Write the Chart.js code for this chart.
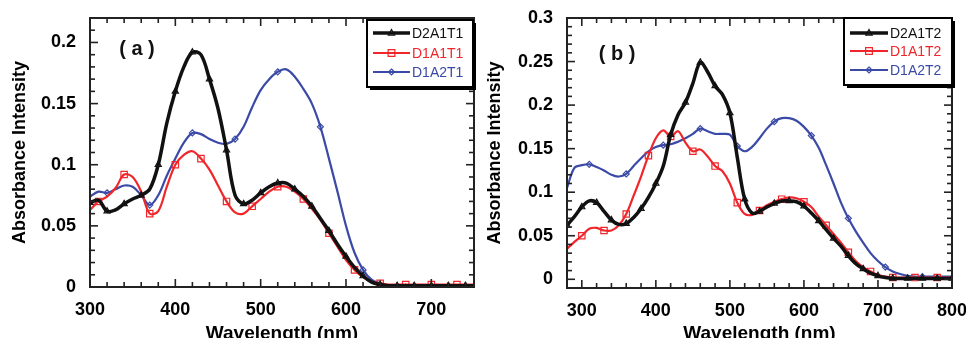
<!DOCTYPE html>
<html>
<head>
<meta charset="utf-8">
<script src="https://cdn.jsdelivr.net/npm/chart.js@4.4.1/dist/chart.umd.min.js"></script>
<style>
  html, body { margin: 0; padding: 0; background: #fff; overflow: hidden; }
  .panel { position: absolute; top: 0; width: 483px; height: 338px; }
  #pa { left: 0; }
  #pb { left: 483px; }
</style>
</head>
<body>
<div class="panel" id="pa"><canvas id="chartA" width="483" height="338"></canvas></div>
<div class="panel" id="pb"><canvas id="chartB" width="483" height="338"></canvas></div>
<script>
// ---- panel (a) ----
const wlA = [300, 310, 320, 330, 340, 350, 360, 370, 380, 390, 400, 410, 420, 430, 440, 450,
  460, 470, 480, 490, 500, 510, 520, 530, 540, 550, 560, 570, 580, 590, 600, 610, 620, 630,
  640, 650, 660, 670, 680, 690, 700, 710, 720, 730, 740, 750];
const d2a1t1 = [0.069, 0.071, 0.062, 0.063, 0.068, 0.072, 0.075, 0.080, 0.100, 0.134, 0.160, 0.180,
  0.192, 0.190, 0.170, 0.146, 0.112, 0.075, 0.068, 0.071, 0.077, 0.082, 0.085, 0.085, 0.080, 0.074,
  0.066, 0.056, 0.046, 0.035, 0.025, 0.016, 0.009, 0.004, 0.002, 0.001, 0.001, 0.001, 0.001, 0.001,
  0.001, 0.001, 0.001, 0.001, 0.001, 0.001];
const d1a1t1 = [0.063, 0.070, 0.074, 0.081, 0.092, 0.090, 0.078, 0.060, 0.062, 0.082, 0.100, 0.108,
  0.111, 0.105, 0.096, 0.083, 0.070, 0.061, 0.060, 0.066, 0.072, 0.078, 0.082, 0.082, 0.078, 0.072,
  0.064, 0.055, 0.044, 0.033, 0.022, 0.014, 0.008, 0.004, 0.003, 0.002, 0.002, 0.002, 0.002, 0.002,
  0.002, 0.002, 0.002, 0.002, 0.002, 0.002];
const d1a2t1 = [0.074, 0.078, 0.077, 0.080, 0.083, 0.082, 0.075, 0.067, 0.075, 0.091, 0.105, 0.118,
  0.126, 0.125, 0.121, 0.118, 0.117, 0.121, 0.131, 0.147, 0.161, 0.170, 0.176, 0.178, 0.172, 0.162,
  0.150, 0.131, 0.105, 0.078, 0.050, 0.028, 0.014, 0.006, 0.003, 0.001, 0, 0, 0, 0,
  0, 0, 0, 0, 0, 0];
const xTicksA = [300, 400, 500, 600, 700];
const yTicksA = [0, 0.05, 0.1, 0.15, 0.2];

// ---- panel (b) ----
const wlB = [280, 290, 300, 310, 320, 330, 340, 350, 360, 370, 380, 390, 400, 410, 420, 430, 440,
  450, 460, 470, 480, 490, 500, 510, 520, 530, 540, 550, 560, 570, 580, 590, 600, 610, 620, 630,
  640, 650, 660, 670, 680, 690, 700, 710, 720, 730, 740, 750, 760, 770, 780, 790, 800];
const d2a1t2 = [0.062, 0.072, 0.083, 0.090, 0.088, 0.078, 0.068, 0.063, 0.064, 0.071, 0.081, 0.094,
  0.110, 0.130, 0.166, 0.189, 0.203, 0.225, 0.249, 0.238, 0.222, 0.212, 0.191, 0.140, 0.092, 0.076,
  0.078, 0.083, 0.087, 0.090, 0.090, 0.089, 0.084, 0.076, 0.067, 0.057, 0.047, 0.038, 0.027, 0.018,
  0.012, 0.007, 0.004, 0.002, 0.001, 0.001, 0.001, 0.001, 0.001, 0.001, 0.001, 0.001, 0.001];
const d1a1t2 = [0.035, 0.043, 0.050, 0.058, 0.059, 0.056, 0.056, 0.062, 0.075, 0.096, 0.118, 0.142,
  0.162, 0.171, 0.164, 0.170, 0.157, 0.147, 0.149, 0.141, 0.130, 0.124, 0.110, 0.088, 0.075, 0.074,
  0.079, 0.085, 0.089, 0.092, 0.094, 0.093, 0.089, 0.083, 0.072, 0.062, 0.052, 0.042, 0.031, 0.021,
  0.014, 0.009, 0.005, 0.003, 0.002, 0.002, 0.002, 0.002, 0.002, 0.002, 0.002, 0.002, 0.002];
const d1a2t2 = [0.105, 0.128, 0.131, 0.132, 0.129, 0.125, 0.120, 0.118, 0.121, 0.130, 0.139, 0.147,
  0.152, 0.154, 0.155, 0.158, 0.162, 0.167, 0.173, 0.170, 0.167, 0.167, 0.166, 0.153, 0.147, 0.152,
  0.162, 0.173, 0.181, 0.185, 0.185, 0.182, 0.175, 0.165, 0.151, 0.131, 0.110, 0.088, 0.070, 0.055,
  0.042, 0.030, 0.021, 0.014, 0.009, 0.006, 0.004, 0.003, 0.003, 0.003, 0.003, 0.003, 0.003];
const xTicksB = [300, 400, 500, 600, 700, 800];
const yTicksB = [0, 0.05, 0.1, 0.15, 0.2, 0.25, 0.3];

const FONT = '"Liberation Sans", Arial, sans-serif';
const BLACK = "#111111";
const RED = "#f0262b";
const BLUE = "#3a4aa6";

// markers only on every n-th point, like the sparse symbols of the original plot
function marks(every, off, r) {
  return (c) => (c.dataIndex % every === off ? r : 0);
}

function series(label, wl, vals, color, width, style, every, off, r) {
  return {
    label,
    data: wl.map((w, i) => ({ x: w, y: vals[i] })),
    borderColor: color,
    borderWidth: width,
    tension: 0.35,
    pointStyle: style,
    pointRadius: marks(every, off, r),
    pointHoverRadius: 0,
    pointBorderColor: color,
    pointBackgroundColor: "rgba(255,255,255,0)",
    pointBorderWidth: 1.2,
    markR: r,
  };
}

function marker(ctx, style, x, y, r) {
  ctx.beginPath();
  if (style === "triangle") {
    ctx.moveTo(x, y - r);
    ctx.lineTo(x + r * 0.9, y + r * 0.6);
    ctx.lineTo(x - r * 0.9, y + r * 0.6);
    ctx.closePath();
  } else if (style === "rect") {
    ctx.rect(x - r * 0.75, y - r * 0.75, r * 1.5, r * 1.5);
  } else {
    ctx.moveTo(x, y - r);
    ctx.lineTo(x + r, y);
    ctx.lineTo(x, y + r);
    ctx.lineTo(x - r, y);
    ctx.closePath();
  }
  ctx.stroke();
}

// box round the plot with inward ticks on all four sides
const frameTicks = {
  id: "frameTicks",
  afterDatasetsDraw(chart) {
    const { ctx, chartArea: a } = chart;
    const x = chart.scales.x, y = chart.scales.y;
    ctx.save();
    ctx.strokeStyle = "#222";
    ctx.lineWidth = 1.6;
    const seg = (x0, y0, x1, y1) => {
      ctx.beginPath(); ctx.moveTo(x0, y0); ctx.lineTo(x1, y1); ctx.stroke();
    };
    for (let k = Math.ceil(x.min / 20); k * 20 <= x.max; k++) {
      const px = x.getPixelForValue(k * 20);
      const len = (k * 20) % 100 === 0 ? 8 : 5;
      seg(px, a.bottom, px, a.bottom - len);
      seg(px, a.top, px, a.top + len);
    }
    for (let k = Math.ceil(y.min * 100 - 1e-6); k / 100 <= y.max + 1e-9; k++) {
      const py = y.getPixelForValue(k / 100);
      const len = k % 5 === 0 ? 8 : 5;
      seg(a.left, py, a.left + len, py);
      seg(a.right, py, a.right - len, py);
    }
    ctx.lineWidth = 2;
    ctx.strokeRect(a.left, a.top, a.right - a.left, a.bottom - a.top);
    ctx.restore();
  },
};

const boxLegend = {
  id: "boxLegend",
  afterDraw(chart, args, o) {
    const ctx = chart.ctx;
    const [bx, by, bw, bh] = o.box;
    ctx.save();
    ctx.fillStyle = "#000";
    ctx.fillRect(bx + 3, by + 3, bw, bh);
    ctx.fillStyle = "#fff";
    ctx.fillRect(bx, by, bw, bh);
    ctx.lineWidth = 2;
    ctx.strokeStyle = "#000";
    ctx.strokeRect(bx, by, bw, bh);
    chart.data.datasets.forEach((ds, i) => {
      const yy = o.rows[i];
      ctx.strokeStyle = ds.borderColor;
      ctx.lineWidth = ds.borderWidth;
      ctx.beginPath();
      ctx.moveTo(o.line[0], yy);
      ctx.lineTo(o.line[1], yy);
      ctx.stroke();
      ctx.lineWidth = 1.2;
      marker(ctx, ds.pointStyle, (o.line[0] + o.line[1]) / 2, yy, ds.markR);
      ctx.fillStyle = ds.borderColor;
      ctx.font = "14px " + FONT;
      ctx.textBaseline = "middle";
      ctx.fillText(ds.label, o.textX, yy + 1);
    });
    // panel tag
    ctx.fillStyle = "#111";
    ctx.font = "bold 20px " + FONT;
    ctx.textAlign = "center";
    ctx.fillText(o.tag, o.tagX, o.tagY);
    ctx.restore();
  },
};

function makePanel(canvas, p) {
  return new Chart(canvas, {
    type: "line",
    data: { datasets: p.datasets },
    plugins: [frameTicks, boxLegend],
    options: {
      responsive: false,
      animation: false,
      layout: { padding: { left: 0, right: p.padRight, top: 18, bottom: 0 } },
      plugins: {
        legend: { display: false },
        tooltip: { enabled: false },
        boxLegend: p.legend,
      },
      scales: {
        x: {
          type: "linear",
          min: p.xMin,
          max: p.xMax,
          grid: { display: false, drawTicks: false },
          border: { display: false },
          afterBuildTicks: (s) => { s.ticks = p.xTicks.map((v) => ({ value: v })); },
          afterFit: (s) => { s.height = p.xHeight; s.paddingLeft = 0; s.paddingRight = 0; },
          ticks: {
            padding: 12, color: "#000", autoSkip: false, maxRotation: 0,
            font: { family: FONT, size: 18, weight: "bold" },
            callback: (v) => String(v),
          },
          title: {
            display: true, text: "Wavelength (nm)", color: "#000",
            font: { family: FONT, size: 19, weight: "bold" },
            padding: { top: 0, bottom: -7 },
          },
        },
        y: {
          min: p.yMin,
          max: p.yMax,
          grid: { display: false, drawTicks: false },
          border: { display: false },
          afterBuildTicks: (s) => { s.ticks = p.yTicks.map((v) => ({ value: v })); },
          afterFit: (s) => { s.width = p.yWidth; s.paddingTop = 0; s.paddingBottom = 0; },
          ticks: {
            padding: 14, color: "#000",
            font: { family: FONT, size: 18, weight: "bold" },
            callback: (v) => String(v),
          },
          title: {
            display: true, text: "Absorbance Intensity", color: "#000",
            font: { family: FONT, size: 18, weight: "bold" },
            padding: { top: p.yTitlePad, bottom: 0 },
          },
        },
      },
    },
  });
}

makePanel(document.getElementById("chartA"), {
  datasets: [
    series("D2A1T1", wlA, d2a1t1, BLACK, 3.5, "triangle", 2, 0, 3.5),
    series("D1A1T1", wlA, d1a1t1, RED, 2.2, "rect", 3, 1, 4.5),
    series("D1A2T1", wlA, d1a2t1, BLUE, 2.2, "rectRot", 5, 2, 3),
  ],
  xMin: 300, xMax: 750, yMin: 0, yMax: 0.22,
  xTicks: xTicksA, yTicks: yTicksA,
  padRight: 9, yWidth: 90, xHeight: 51, yTitlePad: 9,
  legend: { box: [367, 20, 106, 67], rows: [33, 53, 72], line: [373, 410], textX: 412,
            tag: "( a )", tagX: 137, tagY: 49 },
});

makePanel(document.getElementById("chartB"), {
  datasets: [
    series("D2A1T2", wlB, d2a1t2, BLACK, 3.5, "triangle", 2, 0, 3.5),
    series("D1A1T2", wlB, d1a1t2, RED, 2.2, "rect", 3, 2, 4.5),
    series("D1A2T2", wlB, d1a2t2, BLUE, 2.2, "rectRot", 5, 3, 3),
  ],
  xMin: 280, xMax: 800, yMin: -0.01, yMax: 0.3,
  xTicks: xTicksB, yTicks: yTicksB,
  padRight: 14, yWidth: 84, xHeight: 50, yTitlePad: 1,
  legend: { box: [361, 18, 108, 67], rows: [33, 51, 70], line: [367, 405], textX: 407,
            tag: "( b )", tagX: 134, tagY: 54 },
});
</script>
</body>
</html>
